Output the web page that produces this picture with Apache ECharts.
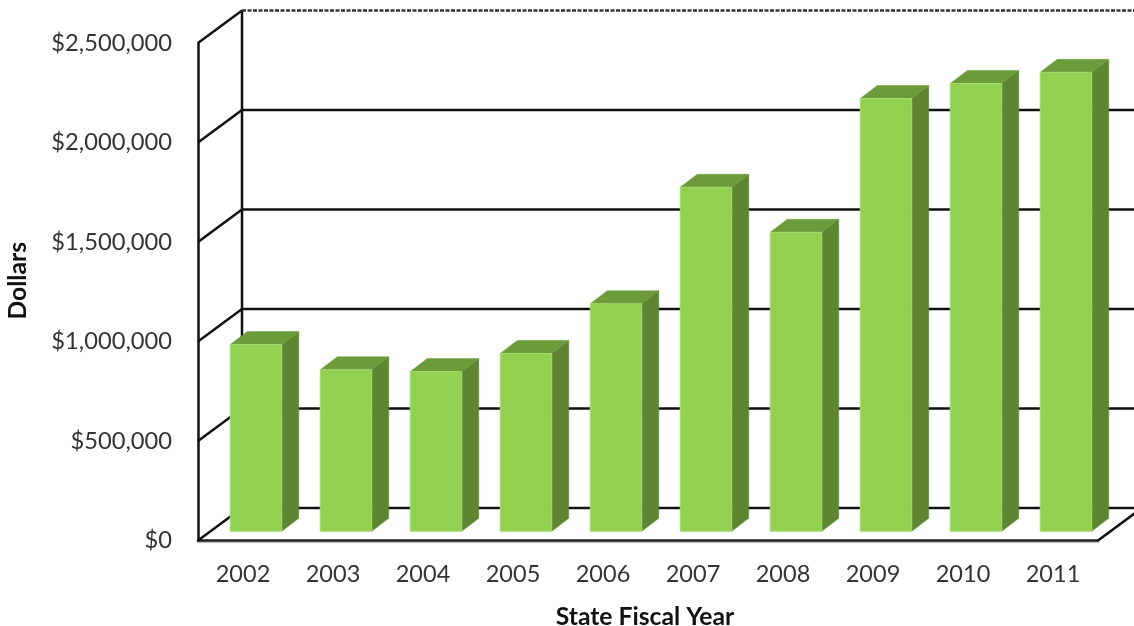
<!DOCTYPE html>
<html>
<head>
<meta charset="utf-8">
<style>html,body{margin:0;padding:0;background:#fff}#chart{width:1134px;height:626px}</style>
<script src="https://cdn.jsdelivr.net/npm/echarts@6/dist/echarts.min.js"></script>
</head>
<body>
<div id="chart"></div>
<script>
var categories = ['2002','2003','2004','2005','2006','2007','2008','2009','2010','2011'];
var spending = [938000,811000,802000,893000,1143000,1728000,1502000,2174000,2250000,2306000];
var ticks = [0,500000,1000000,1500000,2000000,2500000];

var WALL_DX = 44, WALL_DY = -32.5;      // front plane to back wall
var BAR_DX = 13, BAR_DY = -9.3;         // front plane to front face of bars
var BAR_W = 51.5, DEPTH_DX = 17, DEPTH_DY = -13;
var LINE = '#111111';

function fmt(v){ return '$' + String(v).replace(/\B(?=(\d{3})+$)/g, ','); }
function poly(pts, fill, stroke){
  return {type:'polygon', shape:{points:pts}, style:{fill:fill, stroke:stroke||fill, lineWidth:stroke?1:0.5}};
}
function seg(x1,y1,x2,y2,style){
  return {type:'line', shape:{x1:x1,y1:y1,x2:x2,y2:y2},
    style:Object.assign({stroke:LINE,lineWidth:2.5,fill:null}, style||{})};
}

var chart = echarts.init(document.getElementById('chart'), null, {renderer:'canvas'});
chart.setOption({
  animation:false,
  backgroundColor:'#ffffff',
  grid:{left:198,right:36,top:43,bottom:85.5,containLabel:false,outerBoundsMode:'none'},
  xAxis:{
    type:'category', data:categories,
    axisTick:{show:false},
    axisLine:{show:true,lineStyle:{color:'#222222',width:2.5,shadowColor:'rgba(0,0,0,0.35)',shadowBlur:1,shadowOffsetY:1}},
    axisLabel:{fontFamily:'Lato',fontSize:23.5,color:'#333333',margin:22},
    name:'State Fiscal Year', nameLocation:'middle', nameGap:64,
    nameTextStyle:{fontFamily:'Lato',fontSize:24.7,fontWeight:'bold',color:'#111111',padding:[0,6,0,0]}
  },
  yAxis:{
    type:'value', min:0, max:2500000, interval:500000,
    splitLine:{show:false},
    axisTick:{show:false},
    axisLine:{show:true,lineStyle:{color:LINE,width:2.5}},
    axisLabel:{fontFamily:'Lato',fontSize:23.7,color:'#333333',margin:26,formatter:fmt},
    name:'Dollars', nameLocation:'middle', nameGap:167, nameRotate:90,
    nameTextStyle:{fontFamily:'Lato',fontSize:24.7,fontWeight:'bold',color:'#111111',padding:[0,0,0,22]}
  },
  series:[
    {
      type:'custom', z:1, silent:true,
      data:ticks.map(function(t){return [0,t];}),
      encode:{x:0,y:1},
      renderItem:function(params,api){
        var rect = params.coordSys;
        var y = api.coord([0,api.value(1)])[1];
        var left = rect.x, right = rect.x+rect.width;
        var children = [];
        var isTop = api.value(1) === ticks[ticks.length-1];
        children.push(seg(left,y,left+WALL_DX,y+WALL_DY));
        children.push(seg(left+WALL_DX,y+WALL_DY,1134,y+WALL_DY,
          isTop ? {lineDash:[4,1.5],stroke:'#333333'} : {}));
        if(api.value(1) === 0){
          children.push(seg(right,y,right+WALL_DX,y+WALL_DY));
          children.push(seg(left+WALL_DX,y+WALL_DY,left+WALL_DX,rect.y+WALL_DY));
        }
        return {type:'group',children:children};
      }
    },
    {
      type:'custom', z:2, silent:true,
      data:spending.map(function(v,i){return [i,v];}),
      encode:{x:0,y:1},
      renderItem:function(params,api){
        var top = api.coord([api.value(0),api.value(1)]);
        var base = api.coord([api.value(0),0]);
        var x0 = top[0]+BAR_DX-BAR_W/2, x1 = x0+BAR_W;
        var yt = top[1]+BAR_DY, yb = base[1]+BAR_DY;
        var dx = DEPTH_DX, dy = DEPTH_DY;
        return {type:'group',children:[
          poly([[x1,yt],[x1+dx,yt+dy],[x1+dx,yb+dy],[x1,yb]],'#5E8532'),
          poly([[x0,yt],[x0+dx,yt+dy],[x1+dx,yt+dy],[x1,yt]],'#6C9B3A'),
          {type:'rect',shape:{x:x0,y:yt,width:BAR_W,height:yb-yt},
           style:{fill:'#92D050',stroke:'#A4DB6E',lineWidth:1}}
        ]};
      }
    }
  ]
});
</script>
</body>
</html>
